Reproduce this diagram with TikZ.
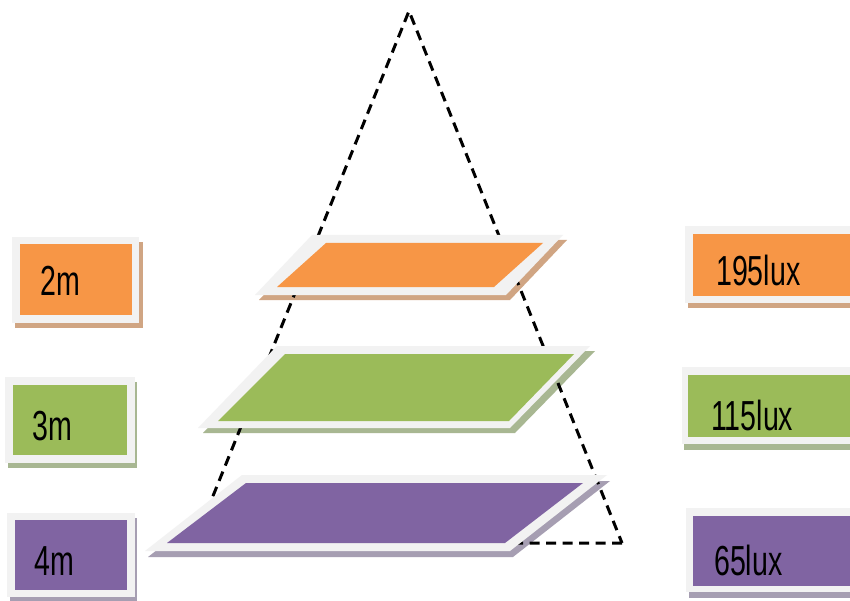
\documentclass[tikz,border=0pt]{standalone}
\usepackage{fontspec}
\setmainfont{Liberation Sans}
\usepackage{graphicx}
\definecolor{orng}{HTML}{F79646}
\definecolor{grn}{HTML}{9BBB59}
\definecolor{purp}{HTML}{8064A2}
\definecolor{rim}{HTML}{F2F2F2}
\definecolor{orngsh}{HTML}{D0A583}
\definecolor{grnsh}{HTML}{A8B792}
\definecolor{purpsh}{HTML}{A69EB2}
\newcommand\condtxt[1]{\scalebox{0.68}[1]{#1}}
\begin{document}
\begin{tikzpicture}[x=1pt,y=-1pt,
  lbl/.style={inner sep=0pt,anchor=base west,font=\fontsize{42}{42}\selectfont},
  tri/.style={dash pattern=on 10pt off 6.5pt,line width=3pt,line join=miter}]
\useasboundingbox (0,0) rectangle (850,601);
\clip (0,0) rectangle (850,601);
\fill[white] (0,0) rectangle (850,601);

% plate shadows
\fill[orngsh] (316,240) -- (567,240) -- (510,300) -- (259,300) -- cycle;
\fill[grnsh] (282,351) -- (595,351) -- (515,433) -- (203,433) -- cycle;
\fill[purpsh] (245,481) -- (610,481) -- (513,557) -- (148,557) -- cycle;

% dashed triangle
\coordinate (apex) at (409,11);
\coordinate (br) at (622,543);
\coordinate (bl) at (194,543);
\draw[tri] (br) -- (bl) -- (apex) -- cycle;

% plates
\fill[rim] (312,235) -- (563,235) -- (506,295) -- (255,295) -- cycle;
\fill[orng] (326,243) -- (543,243) -- (494,287) -- (277,287) -- cycle;
\fill[rim] (277,346) -- (590,346) -- (510,428) -- (198,428) -- cycle;
\fill[grn] (285,354) -- (574,354) -- (509,421) -- (218,421) -- cycle;
\fill[rim] (242,475) -- (607,475) -- (510,551) -- (145,551) -- cycle;
\fill[purp] (246,483) -- (583,483) -- (505,543) -- (167,543) -- cycle;

% left boxes
\fill[orngsh] (15,242) rectangle (143,328);
\fill[rim] (12,237) rectangle (139,323);
\fill[orng] (20,244) rectangle (132,315);
\fill[grnsh] (8,382) rectangle (137,468);
\fill[rim] (5,377) rectangle (135,463);
\fill[grn] (13,385) rectangle (127,455);
\fill[purpsh] (10,518) rectangle (137,601);
\fill[rim] (7,513) rectangle (135,597);
\fill[purp] (15,520) rectangle (127,590);

% right boxes
\fill[orngsh] (688,231) rectangle (860,308);
\fill[rim] (685,226) rectangle (860,303);
\fill[orng] (693,234) rectangle (860,296);
\fill[grnsh] (684,372) rectangle (860,450);
\fill[rim] (682,367) rectangle (860,444);
\fill[grn] (688,375) rectangle (860,437);
\fill[purpsh] (689,513) rectangle (860,598);
\fill[rim] (686,508) rectangle (860,592);
\fill[purp] (693,516) rectangle (860,586);

% labels
\node[lbl] (l2m) at (40,295) {\condtxt{2m}};
\node[lbl] (l3m) at (32,440) {\condtxt{3m}};
\node[lbl] (l4m) at (34,575) {\condtxt{4m}};
\node[lbl] (l195) at (716,285) {\condtxt{195lux}};
\node[lbl] (l115) at (711,430) {\condtxt{115lux}};
\node[lbl] (l65) at (714,575) {\condtxt{65lux}};
\end{tikzpicture}
\end{document}
